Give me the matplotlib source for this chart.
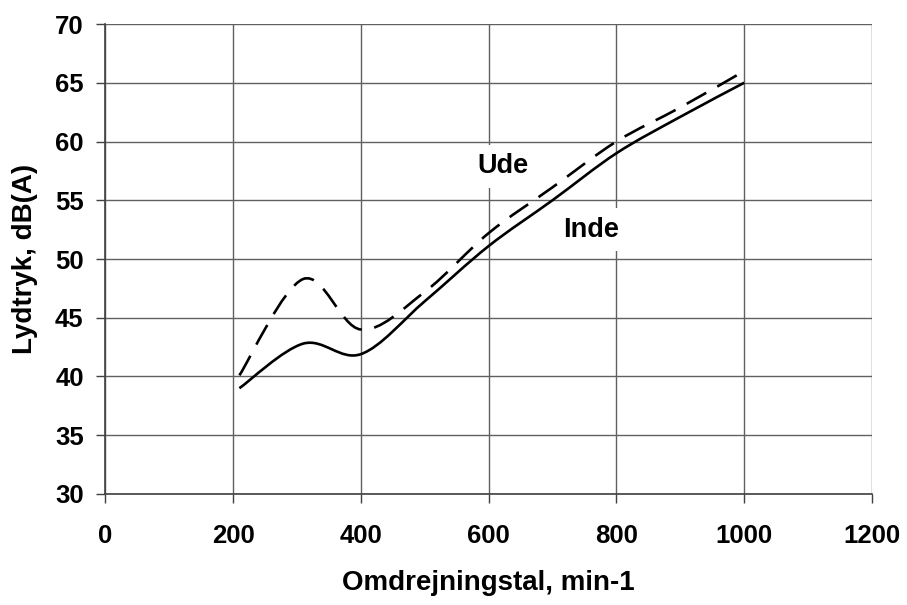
import matplotlib
matplotlib.use("Agg")
import matplotlib.pyplot as plt
import numpy as np
from matplotlib.path import Path
from matplotlib.patches import PathPatch

plt.rcParams['font.family'] = ['Liberation Sans', 'DejaVu Sans']
plt.rcParams['font.weight'] = 'bold'

# data
rpm = [210, 310, 400, 500, 600, 700, 800, 900, 1000]
inde = [39.0, 42.8, 41.9, 46.4, 51.1, 55.0, 59.0, 62.1, 65.0]
ude = [40.1, 48.3, 44.0, 47.2, 52.2, 56.1, 60.0, 62.9, 66.0]

x_ticks = [0, 200, 400, 600, 800, 1000, 1200]
y_ticks = [30, 35, 40, 45, 50, 55, 60, 65, 70]


def smooth_path(x, y):
    # Excel-style smoothed line: cubic Bezier through the points
    pts = np.column_stack([x, y]).astype(float)
    n = len(pts)
    verts = [pts[0]]
    codes = [Path.MOVETO]
    for i in range(n - 1):
        p0 = pts[i - 1] if i > 0 else pts[i]
        p1 = pts[i]
        p2 = pts[i + 1]
        p3 = pts[i + 2] if i + 2 < n else pts[i + 1]
        c1 = p1 + (p2 - p0) / 6.0
        c2 = p2 - (p3 - p1) / 6.0
        verts += [c1, c2, p2]
        codes += [Path.CURVE4] * 3
    return Path(verts, codes)


fig = plt.figure(figsize=(9.07, 6.05), dpi=100)
ax = fig.add_axes([0.116, 0.1835, 0.8454, 0.7768])

ax.add_patch(PathPatch(smooth_path(rpm, inde), facecolor='none', edgecolor='black',
                       linewidth=1.9, zorder=4))
dashed = PathPatch(smooth_path(rpm, ude), facecolor='none', edgecolor='black',
                   linewidth=1.9, zorder=4)
dashed.set_linestyle((0, (8.5, 4.8)))
ax.add_patch(dashed)

ax.text(622, 57.9, 'Ude', fontsize=19.5, fontweight='bold', ha='center', va='center',
        zorder=3, bbox=dict(facecolor='white', edgecolor='none', pad=6))
ax.text(760, 52.5, 'Inde', fontsize=19.5, fontweight='bold', ha='center', va='center',
        zorder=3, bbox=dict(facecolor='white', edgecolor='none', pad=6))

ax.set_xlim(0, 1200)
ax.set_ylim(30, 70)
ax.set_xticks(x_ticks)
ax.set_yticks(y_ticks)
ax.tick_params(labelsize=18.5, length=6.5, width=1, color='#404040')
ax.tick_params(axis='x', pad=15)
ax.tick_params(axis='y', pad=9)
ax.grid(True, color='#606060', linewidth=1)
ax.set_axisbelow(True)
for side in ['top', 'right']:
    ax.spines[side].set_visible(False)
for side in ['left', 'bottom']:
    ax.spines[side].set_color('#404040')
    ax.spines[side].set_linewidth(1.2)

ax.set_xlabel('Omdrejningstal, min-1', fontsize=20, fontweight='bold', labelpad=16)
ax.set_ylabel('Lydtryk, dB(A)', fontsize=20, fontweight='bold', labelpad=12)

fig.savefig('out.png', dpi=100, facecolor='white')
